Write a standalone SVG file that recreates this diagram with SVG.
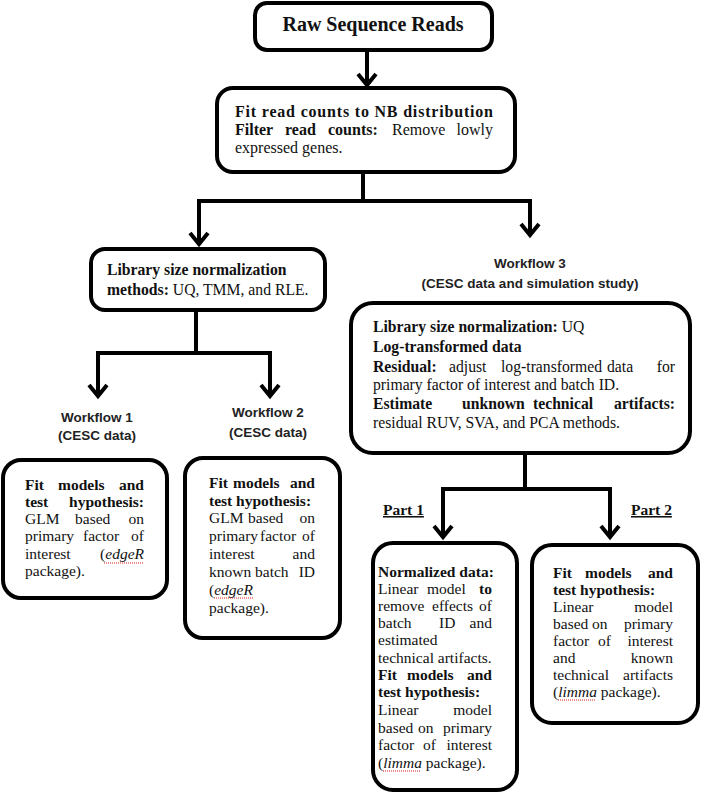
<svg xmlns="http://www.w3.org/2000/svg" width="701" height="799" viewBox="0 0 701 799">
<defs>
<style>
.box{fill:#fff;stroke:#000;stroke-width:4}
.conn{fill:none;stroke:#000;stroke-width:4;stroke-linejoin:miter}
.t{font-family:"Liberation Serif","Times New Roman",serif;font-size:15.5px;fill:#111}
.m{font-size:15.7px}
.n{font-size:16px}
.b{font-weight:bold}
.i{font-style:italic}
.wf{font-family:"Liberation Sans",Arial,sans-serif;font-size:13.5px;font-weight:bold;fill:#222;text-anchor:middle}
.e{text-anchor:end}
.sp{fill:none;stroke:#d22;stroke-width:1.2;stroke-dasharray:1 1}
</style>
<marker id="arr" markerUnits="userSpaceOnUse" markerWidth="30" markerHeight="30" viewBox="-15 -15 30 30" refX="0" refY="0" orient="auto">
<path d="M-11,-9 L0,0 L-11,9" fill="none" stroke="#000" stroke-width="4"/>
</marker>
</defs>

<g id="connectors">
<path class="conn" d="M367,50 V85" marker-end="url(#arr)"/>
<path class="conn" d="M363,172 V201 H199 V244" marker-end="url(#arr)"/>
<path class="conn" d="M361,201 H530 V235" marker-end="url(#arr)"/>
<path class="conn" d="M196,310 V353 H98 V396" marker-end="url(#arr)"/>
<path class="conn" d="M194,353 H270 V396" marker-end="url(#arr)"/>
<path class="conn" d="M525,453 V489 H443 V537" marker-end="url(#arr)"/>
<path class="conn" d="M523,489 H610 V537" marker-end="url(#arr)"/>
</g>

<g id="raw">
<rect class="box" x="255" y="3" width="237" height="47" rx="12"/>
<text class="t b" x="373" y="31" style="font-size:20px" text-anchor="middle">Raw Sequence Reads</text>
</g>

<g id="fit-nb">
<rect class="box" x="217" y="88" width="298" height="84" rx="16"/>
<text class="t n b" x="235" y="117" textLength="258" lengthAdjust="spacing">Fit read counts to NB distribution</text>
<text class="t n" y="135"><tspan class="b" x="235">Filter</tspan><tspan class="b" x="285">read</tspan><tspan class="b" x="328">counts:</tspan><tspan x="392">Remove</tspan><tspan class="e" x="493">lowly</tspan></text>
<text class="t n" x="235" y="153">expressed genes.</text>
</g>

<g id="libsize">
<rect class="box" x="91" y="249" width="234" height="61" rx="14"/>
<text class="t m b" x="107" y="275">Library size normalization</text>
<text class="t m" x="107" y="295"><tspan class="b">methods:</tspan> UQ, TMM, and RLE.</text>
</g>

<g id="wf3-label">
<text class="wf" x="530" y="268">Workflow 3</text>
<text class="wf" x="530" y="288">(CESC data and simulation study)</text>
</g>

<g id="wf3">
<rect class="box" x="351" y="303" width="339" height="150" rx="22"/>
<text class="t m" x="373" y="332"><tspan class="b">Library size normalization:</tspan> UQ</text>
<text class="t m b" x="373" y="352">Log-transformed data</text>
<text class="t m" y="372"><tspan class="b" x="373">Residual:</tspan><tspan x="449">adjust</tspan><tspan x="501">log-transformed</tspan><tspan x="607">data</tspan><tspan class="e" x="675">for</tspan></text>
<text class="t m" x="373" y="390">primary factor of interest and batch ID.</text>
<text class="t m b" y="409"><tspan x="373">Estimate</tspan><tspan x="462">unknown</tspan><tspan x="533">technical</tspan><tspan class="e" x="675">artifacts:</tspan></text>
<text class="t m" x="373" y="428">residual RUV, SVA, and PCA methods.</text>
</g>

<g id="wf1-label">
<text class="wf" x="97" y="422">Workflow 1</text>
<text class="wf" x="97" y="440">(CESC data)</text>
</g>

<g id="wf2-label">
<text class="wf" x="268" y="417">Workflow 2</text>
<text class="wf" x="268" y="437">(CESC data)</text>
</g>

<g id="wf1">
<rect class="box" x="3" y="460" width="164" height="138" rx="18"/>
<text class="t b" y="490"><tspan x="25">Fit</tspan><tspan x="58">models</tspan><tspan class="e" x="144">and</tspan></text>
<text class="t b" y="507"><tspan x="25">test</tspan><tspan class="e" x="144">hypothesis:</tspan></text>
<text class="t" y="524"><tspan x="25">GLM</tspan><tspan x="75">based</tspan><tspan class="e" x="144">on</tspan></text>
<text class="t" y="541"><tspan x="25">primary</tspan><tspan x="83">factor</tspan><tspan class="e" x="144">of</tspan></text>
<text class="t" y="559"><tspan x="25">interest</tspan><tspan class="e" x="144">(<tspan class="i">edgeR</tspan></tspan></text>
<text class="t" x="25" y="576">package).</text>
<path class="sp" d="M104,563 H144"/>
</g>

<g id="wf2">
<rect class="box" x="185" y="458" width="155" height="180" rx="18"/>
<text class="t b" y="488"><tspan x="209">Fit</tspan><tspan x="233">models</tspan><tspan class="e" x="315">and</tspan></text>
<text class="t b" x="209" y="506">test hypothesis:</text>
<text class="t" y="523"><tspan x="209">GLM</tspan><tspan x="248">based</tspan><tspan class="e" x="315">on</tspan></text>
<text class="t" y="541"><tspan x="209">primary</tspan><tspan x="260">factor</tspan><tspan class="e" x="315">of</tspan></text>
<text class="t" y="559"><tspan x="209">interest</tspan><tspan class="e" x="315">and</tspan></text>
<text class="t" y="577"><tspan x="209">known</tspan><tspan x="255">batch</tspan><tspan class="e" x="315">ID</tspan></text>
<text class="t" x="209" y="595">(<tspan class="i">edgeR</tspan></text>
<text class="t" x="209" y="613">package).</text>
<path class="sp" d="M214,598 H253"/>
</g>

<g id="part1-label">
<text class="t b" x="383" y="515" text-decoration="underline">Part 1</text>
</g>
<g id="part2-label">
<text class="t b" x="631" y="515" text-decoration="underline">Part 2</text>
</g>

<g id="part1">
<rect class="box" x="373" y="543" width="144" height="247" rx="20"/>
<text class="t b" x="378" y="577">Normalized data:</text>
<text class="t" y="594"><tspan x="378">Linear</tspan><tspan x="427">model</tspan><tspan class="e b" x="492">to</tspan></text>
<text class="t" y="611"><tspan x="378">remove</tspan><tspan x="432">effects</tspan><tspan class="e" x="492">of</tspan></text>
<text class="t" y="628"><tspan x="378">batch</tspan><tspan x="439">ID</tspan><tspan class="e" x="492">and</tspan></text>
<text class="t" x="378" y="645">estimated</text>
<text class="t" x="378" y="663">technical artifacts.</text>
<text class="t b" y="680"><tspan x="378">Fit</tspan><tspan x="407">models</tspan><tspan class="e" x="492">and</tspan></text>
<text class="t b" x="378" y="697">test hypothesis:</text>
<text class="t" y="715"><tspan x="378">Linear</tspan><tspan class="e" x="492">model</tspan></text>
<text class="t" y="733"><tspan x="378">based</tspan><tspan x="418">on</tspan><tspan class="e" x="492">primary</tspan></text>
<text class="t" y="750"><tspan x="378">factor</tspan><tspan x="423">of</tspan><tspan class="e" x="492">interest</tspan></text>
<text class="t" x="378" y="768">(<tspan class="i">limma</tspan> package).</text>
<path class="sp" d="M383,771 H420"/>
</g>

<g id="part2">
<rect class="box" x="532" y="545" width="166" height="178" rx="20"/>
<text class="t b" y="578"><tspan x="553">Fit</tspan><tspan x="585">models</tspan><tspan class="e" x="673">and</tspan></text>
<text class="t b" x="553" y="595">test hypothesis:</text>
<text class="t" y="612"><tspan x="553">Linear</tspan><tspan class="e" x="673">model</tspan></text>
<text class="t" y="629"><tspan x="553">based</tspan><tspan x="592">on</tspan><tspan class="e" x="673">primary</tspan></text>
<text class="t" y="646"><tspan x="553">factor</tspan><tspan x="598">of</tspan><tspan class="e" x="673">interest</tspan></text>
<text class="t" y="663"><tspan x="553">and</tspan><tspan class="e" x="673">known</tspan></text>
<text class="t" y="680"><tspan x="553">technical</tspan><tspan class="e" x="673">artifacts</tspan></text>
<text class="t" x="553" y="697">(<tspan class="i">limma</tspan> package).</text>
<path class="sp" d="M558,700 H595"/>
</g>
</svg>
